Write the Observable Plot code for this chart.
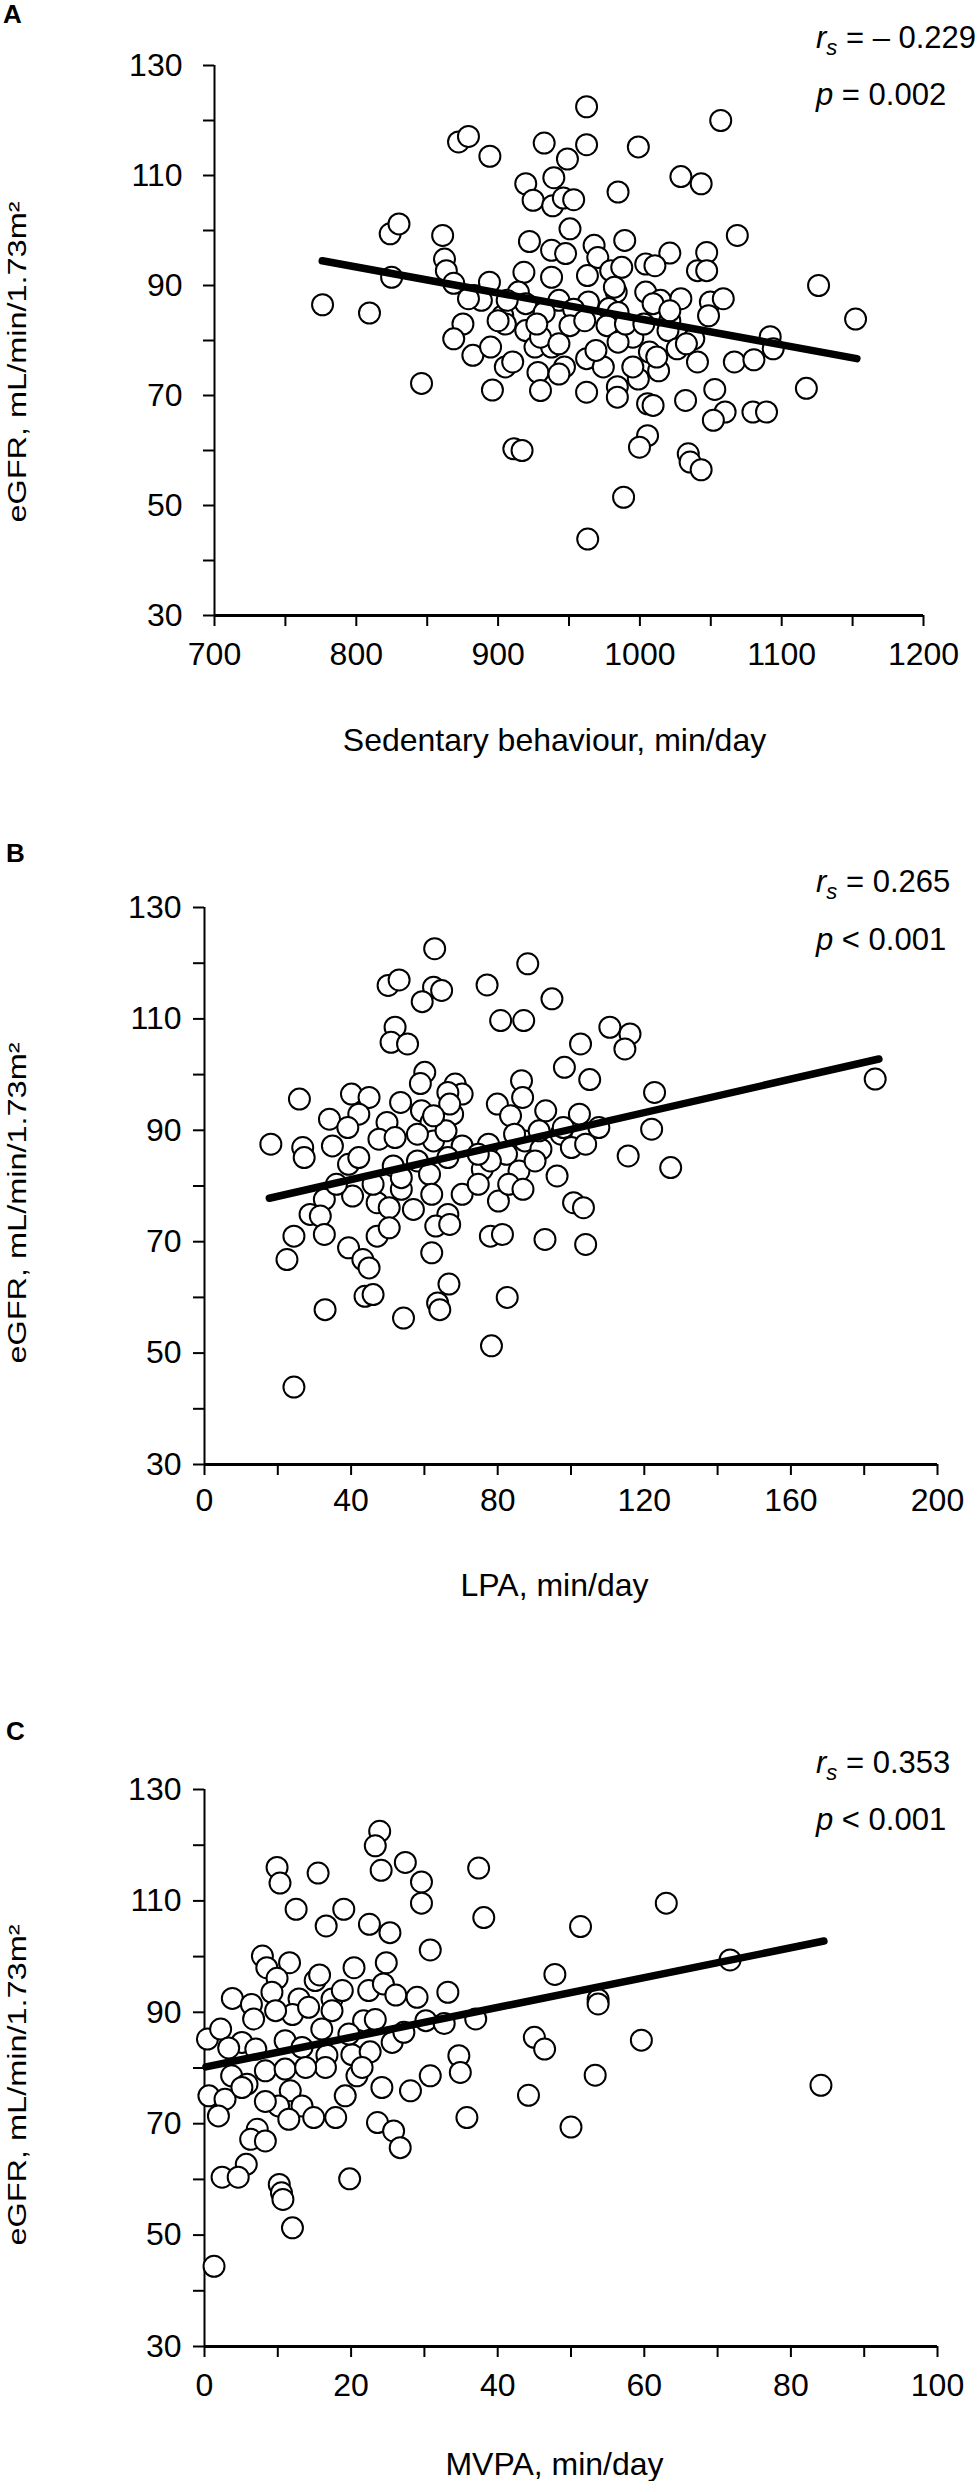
<!DOCTYPE html>
<html><head><meta charset="utf-8">
<script src="https://cdn.jsdelivr.net/npm/d3@7"></script>
<script src="https://cdn.jsdelivr.net/npm/@observablehq/plot@0.6"></script>
<style>
body{margin:0;background:#fff;}
#wrap{position:relative;width:979px;height:2481px;overflow:hidden;background:#fff;}
</style></head><body><div id="wrap"></div>
<script>
const FONT = '"Liberation Sans", Arial, Helvetica, sans-serif';
const yLabel = "eGFR, mL/min/1.73m²";
const yTicks = [30,40,50,60,70,80,90,100,110,120,130];
const yTickLabels = [30,50,70,90,110,130];

// Panel A: sedentary behaviour
const sedTicks = [700,750,800,850,900,950,1000,1050,1100,1150,1200];
const sedTickLabels = [700,800,900,1000,1100,1200];
const sedMin = [962.4,1057,872.1,879.1,894.2,932.5,962.4,998.9,948.9,939.3,919.5,924.7,938.5,946.0,953.3,984.6,1028.9,1043.2,950.7,1068.7,823.9,830.1,860.9,776.2,809.3,824.9,862.2,863.5,868.7,922.1,937.7,947.6,967.7,970.3,989.3,1021.1,1004.1,1010.6,1047.1,1040.6,1047.1,1126.0,1152.1,918.2,937.7,963.0,979.4,987.2,893.9,914.3,919.5,883.0,888.2,879.1,942.9,963.7,983.3,978.1,1004.1,1014.5,1028.9,1049.7,1058.8,1048.4,903.3,932.5,953.3,984.6,1021.1,875.2,868.7,882.2,894.7,905.1,919.5,950.7,976.8,995.0,1019.8,1038.0,1091.9,1094.0,926.0,937.7,962.4,984.6,1006.7,1026.3,1040.6,1066.6,1080.4,905.1,910.3,928.1,946.8,974.2,998.9,1013.2,896.0,929.9,962.4,984.1,984.1,1005.4,1009.3,1032.2,1052.8,1060.1,1051.8,1079.7,1089.3,1117.4,846.0,911.1,916.9,1005.4,999.7,1034.1,1035.4,1043.2,988.5,963.2,929.9,942.9,969.0,989.8,1002.8,1009.3,906.4,927.3,961.1,1032.8,1011.9,942.9,995.0,1021.1,982.0,900.0];
const sedEgfr = [122.5,120.0,116.1,117.1,113.5,115.9,115.6,115.2,113.0,109.6,108.5,105.5,104.5,105.9,105.6,107.0,109.8,108.5,100.3,99.1,99.4,101.2,99.1,86.5,85.0,91.5,94.8,92.7,90.4,98.0,96.4,95.8,97.3,95.1,98.2,95.9,93.9,93.6,96.0,92.7,92.7,90.0,83.9,92.4,91.5,91.8,92.7,93.3,90.6,88.8,86.7,88.2,87.3,87.6,87.3,87.0,88.8,85.8,88.8,87.3,87.6,87.0,87.6,84.5,84.5,85.1,85.7,85.1,83.6,83.0,80.3,77.3,78.8,83.0,81.8,82.7,82.7,80.6,81.8,80.3,80.7,78.5,78.8,78.8,76.7,79.7,77.9,78.5,76.1,76.1,76.5,75.2,76.1,74.2,75.2,75.2,73.0,74.5,71.0,70.9,70.6,71.6,69.7,68.5,68.2,69.1,71.1,67.0,65.5,67.0,67.0,71.3,72.2,60.3,60.0,62.7,60.6,59.4,57.9,56.5,51.5,43.9,80.6,79.4,78.2,83.0,83.0,86.7,87.3,83.0,83.6,79.4,77.0,73.9,75.2,85.4,89.7,83.6];
const sedFitX = [776, 1153];
const sedFitY = [94.5, 76.7];

// Panel B: LPA
const lpaTicks = [0,20,40,60,80,100,120,140,160,180,200];
const lpaTickLabels = [0,40,80,120,160,200];
const lpaMin = [62.8,88.2,50.1,53.1,62.5,64.7,59.4,77.1,94.8,80.8,87.1,52.0,50.9,55.4,110.6,116.1,114.7,102.6,98.2,105.1,183.0,122.8,60.1,58.9,68.4,70.3,66.4,86.5,25.9,40.1,44.9,53.5,42.1,34.1,39.1,49.8,59.2,61.8,67.7,79.9,83.5,93.1,102.3,107.6,86.8,122.0,18.1,26.8,27.2,34.9,47.6,52.0,62.5,70.3,77.5,82.4,87.4,91.8,97.3,100.1,104.0,115.6,127.2,39.3,42.1,51.5,58.1,61.4,66.4,75.8,85.8,90.2,96.2,32.7,40.4,47.1,50.4,53.7,57.0,62.0,66.4,70.3,74.7,80.2,83.0,86.9,28.8,31.6,32.7,24.4,22.5,39.3,43.2,44.9,47.1,50.4,62.0,63.1,66.9,78.0,81.3,92.9,104.0,100.7,103.4,43.8,46.0,32.9,54.3,63.6,64.2,66.7,82.6,78.3,24.4,58.1,65.9,53.7,78.0,74.7,46.0,36.0,84.6,97.9,91.3,66.9,62.5];
const lpaEgfr = [122.6,119.9,116.0,117.0,115.7,115.1,113.1,116.1,113.6,109.7,109.7,108.5,105.8,105.5,108.5,107.3,104.6,105.5,101.3,99.1,99.2,96.8,100.4,98.4,98.3,96.5,96.8,98.9,95.6,96.5,95.9,95.0,92.9,92.0,90.5,91.4,93.5,91.4,92.9,94.7,92.6,93.5,92.9,90.5,95.9,90.2,87.5,86.9,85.1,87.2,88.4,88.7,88.1,87.2,87.5,85.7,88.1,86.6,89.3,86.9,87.5,85.4,83.3,83.9,85.1,83.6,84.5,82.1,85.1,83.0,82.7,84.5,81.8,77.6,78.2,77.0,76.1,79.4,75.8,78.5,74.9,78.5,80.3,77.3,80.3,79.4,74.9,74.6,71.3,71.0,66.8,68.9,66.8,65.3,71.0,72.5,68.0,72.8,73.1,71.0,71.3,70.4,69.5,77.0,76.1,60.2,60.5,57.8,56.3,59.0,57.8,62.4,60.0,51.3,43.9,89.3,89.9,81.5,84.5,85.7,80.3,80.3,89.3,90.5,89.9,94.7,92.6];
const lpaFitX = [17.7, 184];
const lpaFitY = [77.8, 102.8];

// Panel C: MVPA
const mvpaTicks = [0,10,20,30,40,50,60,70,80,90,100];
const mvpaTickLabels = [0,20,40,60,80,100];
const mvpaMin = [23.9,23.3,24.1,27.4,29.6,29.6,9.9,10.3,15.5,37.4,12.5,19.0,16.6,22.5,25.3,38.1,30.8,51.3,63.0,71.7,47.8,53.7,53.7,45.0,46.4,59.6,53.3,84.1,44.2,50.0,5.7,2.4,4.6,10.2,10.5,10.7,19.8,12.0,1.3,7.9,8.5,11.6,9.9,15.1,15.7,20.4,24.8,3.8,6.4,9.2,12.9,17.4,22.4,24.4,26.1,29.0,33.2,6.7,12.0,14.2,17.4,21.7,23.3,30.2,32.7,37.0,0.4,2.2,5.1,7.0,11.0,13.3,16.0,16.7,20.1,22.6,25.6,27.2,3.7,5.8,8.3,11.0,16.5,20.8,24.2,28.1,30.8,34.7,34.9,0.6,2.8,11.7,10.1,13.3,19.2,1.9,11.5,14.9,17.9,23.6,25.8,26.7,35.8,7.2,6.3,8.3,19.7,9.7,18.8,13.8,3.3,8.3,21.5,5.1];
const mvpaEgfr = [122.5,119.9,115.5,116.9,113.4,109.6,116.0,113.2,115.0,115.9,108.5,108.5,105.5,105.8,104.3,107.0,101.2,105.4,109.6,99.4,96.8,92.3,91.5,85.5,83.4,85.0,78.7,76.9,75.1,69.4,62.7,60.4,60.4,59.1,57.6,56.4,60.1,51.3,44.4,100.1,98.0,98.9,96.1,95.7,96.7,98.0,98.9,92.5,91.4,93.6,92.4,92.4,93.9,95.1,93.1,92.7,93.6,88.8,89.6,90.9,90.3,88.5,88.7,88.5,88.0,88.8,85.2,87.0,84.6,83.4,84.9,83.7,87.0,82.3,82.4,82.9,84.6,86.4,78.6,77.1,79.5,79.8,80.1,78.6,76.5,75.9,78.6,82.2,79.2,75.0,74.4,75.9,73.2,73.2,75.0,71.4,70.8,71.1,71.1,70.2,68.7,65.7,71.1,69.0,67.2,66.9,86.1,90.3,93.9,80.1,83.6,74.0,80.1,76.5];
const mvpaFitX = [0.2, 84.5];
const mvpaFitY = [80.2, 102.8];

const wrap = document.getElementById("wrap");

function panel(cfg) {
  const pts = cfg.xs.map((x, i) => ({x, y: cfg.ys[i]}));
  const fit = cfg.fitX.map((x, i) => ({x, y: cfg.fitY[i]}));
  const svg = Plot.plot({
    width: 979,
    height: cfg.height,
    marginTop: cfg.mt,
    marginBottom: cfg.height - cfg.mt - cfg.ph,
    marginLeft: cfg.ml,
    marginRight: cfg.mr,
    style: {fontFamily: FONT, fontSize: "32px", color: "#000", background: "transparent", overflow: "visible"},
    x: {domain: cfg.xDomain, label: null},
    y: {domain: [30, 130], label: null},
    marks: [
      Plot.axisY({ticks: yTicks, tickSize: 11, tickPadding: cfg.yPad, strokeWidth: 2, label: null, fontSize: 32,
        tickFormat: d => yTickLabels.includes(d) ? String(d) : ""}),
      Plot.axisX({ticks: cfg.xTicks, tickSize: 11, tickPadding: cfg.xPad, strokeWidth: 2, label: null, fontSize: 32,
        tickFormat: d => cfg.xTickLabels.includes(d) ? String(d) : ""}),
      Plot.ruleX([cfg.xDomain[0]], {stroke: "#000", strokeWidth: 2}),
      Plot.ruleY([30], {stroke: "#000", strokeWidth: 3}),
      Plot.dot(pts, {x: "x", y: "y", r: 10.5, fill: "#fff", stroke: "#000", strokeWidth: 2}),
      Plot.line(fit, {x: "x", y: "y", stroke: "#000", strokeWidth: 7.5, strokeLinecap: "round"}),
      Plot.text([cfg.xLabel], {frameAnchor: "bottom", dx: cfg.xlDx, dy: cfg.xlDy, lineAnchor: "top", fontSize: 32}),
      Plot.text([yLabel], {frameAnchor: "left", rotate: -90, dx: cfg.ylDx, dy: cfg.ylDy, lineAnchor: "bottom",
        textAnchor: "start", fontSize: 25})
    ]
  });
  svg.querySelectorAll("text").forEach(t => {
    if (t.textContent === yLabel) {
      t.setAttribute("text-anchor", "start");
      t.setAttribute("textLength", "321");
      t.setAttribute("lengthAdjust", "spacingAndGlyphs");
    }
  });
  svg.style.position = "absolute";
  svg.style.left = "0px";
  svg.style.top = cfg.top + "px";
  wrap.appendChild(svg);
}

panel({top: 0, height: 790, mt: 65, ph: 550, ml: 214, mr: 56, xDomain: [700, 1200],
  xTicks: sedTicks, xTickLabels: sedTickLabels, xs: sedMin, ys: sedEgfr, fitX: sedFitX, fitY: sedFitY,
  yPad: 21, xPad: 16, xLabel: "Sedentary behaviour, min/day", xlDx: -14.5, xlDy: 113, ylDx: -189, ylDy: 182});
panel({top: 790, height: 835, mt: 117, ph: 557, ml: 204, mr: 42, xDomain: [0, 200],
  xTicks: lpaTicks, xTickLabels: lpaTickLabels, xs: lpaMin, ys: lpaEgfr, fitX: lpaFitX, fitY: lpaFitY,
  yPad: 12, xPad: 13, xLabel: "LPA, min/day", xlDx: -16.5, xlDy: 109, ylDx: -179, ylDy: 177.5});
panel({top: 1625, height: 856, mt: 164, ph: 557, ml: 204, mr: 42, xDomain: [0, 100],
  xTicks: mvpaTicks, xTickLabels: mvpaTickLabels, xs: mvpaMin, ys: mvpaEgfr, fitX: mvpaFitX, fitY: mvpaFitY,
  yPad: 12, xPad: 16, xLabel: "MVPA, min/day", xlDx: -16.5, xlDy: 106, ylDx: -179, ylDy: 177.5});

// annotations: panel letters and statistics
const notes = [
  {letter: "A", lx: 3, ly: 23, r: "= – 0.229", rY: 48, p: "= 0.002", pY: 105},
  {letter: "B", lx: 6, ly: 862, r: "= 0.265", rY: 892, p: "< 0.001", pY: 950},
  {letter: "C", lx: 6, ly: 1740, r: "= 0.353", rY: 1773, p: "< 0.001", pY: 1830}
];
const ns = "http://www.w3.org/2000/svg";
const ov = document.createElementNS(ns, "svg");
ov.setAttribute("width", 979); ov.setAttribute("height", 2481);
ov.style.position = "absolute"; ov.style.left = "0"; ov.style.top = "0";
ov.style.fontFamily = FONT;
function mk(parent, tag, attrs, text) {
  const e = document.createElementNS(ns, tag);
  for (const k in attrs) e.setAttribute(k, attrs[k]);
  if (text != null) e.textContent = text;
  parent.appendChild(e);
  return e;
}
for (const n of notes) {
  mk(ov, "text", {x: n.lx, y: n.ly, "font-size": 26, "font-weight": "bold", fill: "#000"}, n.letter);
  const t1 = mk(ov, "text", {x: 816, y: n.rY, "font-size": 31, fill: "#000"});
  mk(t1, "tspan", {"font-style": "italic"}, "r");
  mk(t1, "tspan", {"font-style": "italic", "font-size": 22, dy: 7}, "s");
  mk(t1, "tspan", {dy: -7}, " " + n.r);
  const t2 = mk(ov, "text", {x: 816, y: n.pY, "font-size": 31, fill: "#000"});
  mk(t2, "tspan", {"font-style": "italic"}, "p");
  mk(t2, "tspan", {}, " " + n.p);
}
wrap.appendChild(ov);
</script>
</body></html>
